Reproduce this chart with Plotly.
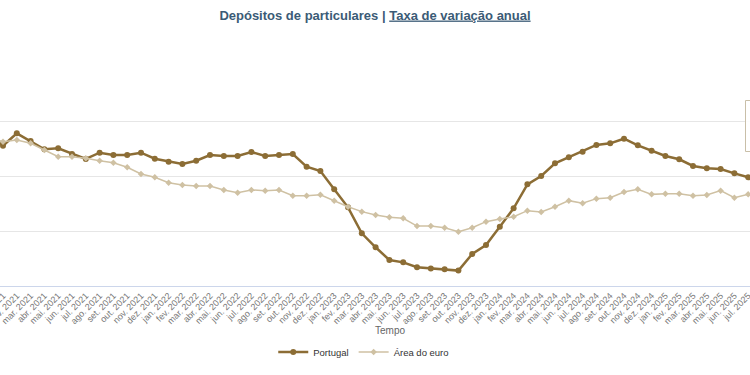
import plotly.graph_objects as go

months_pt = ["jan.", "fev.", "mar.", "abr.", "mai.", "jun.", "jul.", "ago.", "set.", "out.", "nov.", "dez."]
categories = ["dez. 2020"] + [f"{m} {y}" for y in range(2021, 2026) for m in months_pt][:56]

portugal = [8.9,
            7.75, 8.88, 8.18, 7.43, 7.52, 7.0, 6.55, 7.12, 6.91, 6.91, 7.12, 6.57,
            6.3, 6.09, 6.39, 6.91, 6.82, 6.82, 7.18, 6.82, 6.91, 7.0, 5.85, 5.45,
            3.79, 2.15, -0.21, -1.48, -2.64, -2.85, -3.3, -3.42, -3.48, -3.6, -2.09, -1.27,
            0.39, 2.06, 4.24, 5.0, 6.15, 6.7, 7.21, 7.82, 7.97, 8.39, 7.79, 7.3,
            6.82, 6.52, 5.91, 5.7, 5.64, 5.24, 4.88, 4.7]
area_euro = [8.5,
             8.12, 8.27, 7.97, 7.36, 6.75, 6.75, 6.61, 6.39, 6.21, 5.79, 5.18, 4.88,
             4.39, 4.18, 4.09, 4.09, 3.73, 3.48, 3.73, 3.67, 3.73, 3.21, 3.21, 3.3,
             2.76, 2.21, 1.76, 1.45, 1.24, 1.15, 0.45, 0.45, 0.3, -0.06, 0.3, 0.85,
             1.09, 1.3, 1.85, 1.73, 2.21, 2.76, 2.52, 2.94, 3.03, 3.55, 3.79, 3.33,
             3.39, 3.39, 3.21, 3.27, 3.67, 3.03, 3.33, 3.4]

x_idx = list(range(len(categories)))

fig = go.Figure()
fig.add_trace(go.Scatter(
    x=x_idx, y=portugal, name="Portugal", mode="lines+markers",
    line=dict(color="#8c6d35", width=2.5),
    marker=dict(symbol="circle", size=6, color="#8c6d35"),
))
fig.add_trace(go.Scatter(
    x=x_idx, y=area_euro, name="Área do euro", mode="lines+markers",
    line=dict(color="#cfc1a3", width=1.5),
    marker=dict(symbol="diamond", size=5, color="#cfc1a3"),
))

px_per = 13.8
xmin = 1 - 3 / px_per
xmax = xmin + 750 / px_per

plot_top = 118
ymax = 10 + (121 - plot_top) / 11
plot_h = 286 - plot_top

fig.update_layout(
    width=750, height=375,
    margin=dict(l=0, r=0, t=plot_top, b=89, autoexpand=False),
    paper_bgcolor="white", plot_bgcolor="white",
    font=dict(family="Liberation Sans, Arial, sans-serif", color="#666666"),
    title=dict(
        text="<b>Depósitos de particulares | <span style='text-decoration:underline'>Taxa de variação anual</span></b>",
        x=0.5, xanchor="center", y=1 - 15 / 375, yanchor="middle",
        font=dict(size=13, color="#3b5b76", family="Liberation Sans, Arial, sans-serif"),
    ),
    xaxis=dict(
        range=[xmin, xmax], automargin=False,
        tickmode="array", tickvals=x_idx, ticktext=categories,
        tickangle=-45, tickfont=dict(size=9, color="#777777"),
        ticklabeloverflow="allow",
        showgrid=False, zeroline=False,
        showline=True, linecolor="#ccd6eb", linewidth=1,
        ticks="", fixedrange=True,
    ),
    yaxis=dict(
        range=[-5, ymax], tickvals=[-5, 0, 5, 10], automargin=False,
        showticklabels=False, showgrid=True, gridcolor="#e6e6e6", gridwidth=1,
        zeroline=False, showline=False, fixedrange=True,
    ),
    legend=dict(
        orientation="h", x=0.485, xanchor="center", y=(286 - 352) / plot_h, yanchor="middle",
        font=dict(size=9.5, color="#333333"), itemwidth=30,
    ),
    showlegend=True,
    hovermode=False,
    annotations=[dict(
        text="Tempo", xref="paper", yref="paper", x=390 / 750, y=(286 - 330) / plot_h,
        xanchor="center", yanchor="middle", showarrow=False,
        font=dict(size=10, color="#666666"),
    )],
    shapes=[dict(
        type="rect", xref="paper", yref="paper",
        x0=745.5 / 750, x1=1.05, y0=(286 - 151.5) / plot_h, y1=(286 - 100.5) / plot_h,
        line=dict(color="#c9bfa8", width=1), fillcolor="rgba(255,255,255,0.9)", layer="above",
    )],
)

fig.write_html(
    "out.html",
    config={"displayModeBar": False},
    post_script="document.body.style.margin='0';document.body.style.padding='0';",
)
